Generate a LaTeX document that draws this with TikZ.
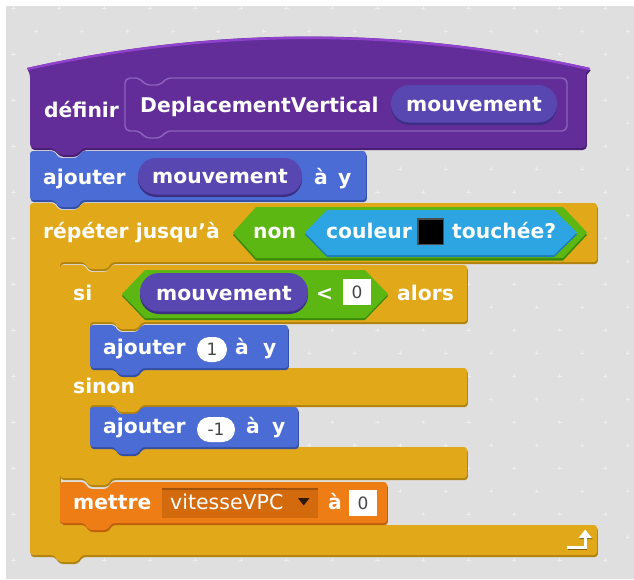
\documentclass[tikz,border=0pt]{standalone}
\usepackage{fontspec}
\setmainfont{DejaVu Sans}
\definecolor{bgc}{RGB}{222,223,222}
\definecolor{gridc}{RGB}{236,237,236}
\definecolor{ctrl}{RGB}{225,169,26}
\definecolor{ctrlD}{RGB}{178,130,14}
\definecolor{motion}{RGB}{74,108,212}
\definecolor{motionD}{RGB}{50,78,165}
\definecolor{more}{RGB}{99,45,153}
\definecolor{moreL}{RGB}{145,66,204}
\definecolor{moreD}{RGB}{72,30,115}
\definecolor{outl}{RGB}{140,98,188}
\definecolor{param}{RGB}{89,71,177}
\definecolor{paramD}{RGB}{60,46,132}
\definecolor{oper}{RGB}{92,183,18}
\definecolor{operD}{RGB}{60,138,10}
\definecolor{sens}{RGB}{44,165,226}
\definecolor{sensD}{RGB}{28,122,182}
\definecolor{data}{RGB}{238,125,22}
\definecolor{dataD}{RGB}{190,96,10}
\definecolor{dropc}{RGB}{212,106,14}
\definecolor{numc}{RGB}{70,70,70}

% stack block with top indent and bottom bump: x1, y1, x2, y2, style
\newcommand{\stackblk}[5]{%
  \fill[#5,rounded corners=3] (#1,#2) -- ({#1+24},#2) -- ({#1+29},{#2+7}) -- ({#1+47},{#2+7})
    -- ({#1+52},#2) -- (#3,#2) -- (#3,#4) -- ({#1+52},#4) -- ({#1+47},{#4+7})
    -- ({#1+29},{#4+7}) -- ({#1+24},#4) -- (#1,#4) -- cycle;}
% define hat
\newcommand{\hatshape}[1]{%
  \fill[#1] (27,68) .. controls (215,26) and (402,26) .. (590,68) -- (586,73)
    [rounded corners=4] -- (586,148) -- (82,148) -- (77,155) -- (59,155) -- (54,148)
    -- (30,148) -- (30,73) [sharp corners] -- cycle;}
% repeat until C block
\newcommand{\repeatshape}[1]{%
  \fill[#1,rounded corners=3] (30,203) -- (54,203) -- (59,210) -- (77,210) -- (82,203)
    -- (597,203) -- (597,262) -- (112,262) -- (107,269) -- (89,269) -- (84,262)
    -- (60,262) -- (60,525) -- (597,525) -- (597,555) -- (82,555) -- (77,562)
    -- (59,562) -- (54,555) -- (30,555) -- cycle;}
% if / else C block
\newcommand{\ifelseshape}[1]{%
  \fill[#1,rounded corners=3] (60,265) -- (84,265) -- (89,272) -- (107,272) -- (112,265)
    -- (467,265) -- (467,322) -- (142,322) -- (137,329) -- (119,329) -- (114,322)
    -- (90,322) -- (90,368) -- (467,368) -- (467,405) -- (142,405) -- (137,412)
    -- (119,412) -- (114,405) -- (90,405) -- (90,447) -- (467,447) -- (467,478)
    -- (112,478) -- (107,485) -- (89,485) -- (84,478) -- (60,478) -- cycle;}

\begin{document}
\begin{tikzpicture}[x=1pt,y=-1pt,
  lbl/.style={anchor=base west,inner sep=0pt,text=white,
    font=\fontsize{20.3}{24}\selectfont\bfseries},
  num/.style={inner sep=0pt,text=numc,font=\fontsize{17}{20}\selectfont},
  shade/.style={shift={(0.8,2)}}]
\useasboundingbox (0,0) rectangle (634,579);
\fill[white] (0,0) rectangle (634,579);
\fill[bgc] (6,6) rectangle (634,579);

% script area grid marks
\begin{scope}
\clip (6,6) rectangle (634,579);
\foreach \j in {-14,...,11}{
  \pgfmathsetmacro{\yy}{330+23*\j}
  \pgfmathsetmacro{\off}{22.75*mod(abs(\j),2)}
  \foreach \i in {-8,...,7}{
    \pgfmathsetmacro{\xx}{332+45.5*\i+\off}
    \draw[gridc,line width=0.9] ({\xx-2.2},\yy) -- ({\xx+2.2},\yy) (\xx,{\yy-2.2}) -- (\xx,{\yy+2.2});
  }}
\end{scope}

% ---- définir block
\hatshape{moreD,shade}
\hatshape{more}
\draw[moreL,line width=2.4] (27.5,69) .. controls (215,27.5) and (402,27.5) .. (589.5,69);
\draw[outl,line width=1.4,rounded corners=5] (125,78) -- (140,78) -- (145,85) -- (161,85)
  -- (166,78) -- (567,78) -- (567,131) -- (166,131) -- (161,138) -- (145,138)
  -- (140,131) -- (125,131) -- cycle;
\node[lbl] (tdef) at (44,117) {définir};
\node[lbl] (tname) at (140,112) {DeplacementVertical};
\fill[paramD,rounded corners=18.5] (391,87) rectangle (557,125);
\fill[param,rounded corners=18.5] (391,85) rectangle (557,122.5);
\node[lbl] (tparam) at (406,111) {mouvement};

% ---- ajouter mouvement à y
\stackblk{30}{151}{366}{200}{motionD,shade}
\stackblk{30}{151}{366}{200}{motion}
\node[lbl] (taj0) at (43,184) {ajouter};
\fill[paramD,rounded corners=18] (138,160) rectangle (302,197);
\fill[param,rounded corners=18] (138,158) rectangle (302,194.5);
\node[lbl] (tmv0) at (152,183) {mouvement};
\node[lbl] (ta0) at (314,184) {à};
\node[lbl] (ty0) at (338,184) {y};

% ---- répéter jusqu'à
\repeatshape{ctrlD,shade}
\repeatshape{ctrl}
\node[lbl] (trep) at (43,238) {répéter jusqu’à};
\fill[operD] (233,235) -- (256,209.5) -- (563,209.5) -- (587,235) -- (563,260.5) -- (256,260.5) -- cycle;
\fill[oper] (233,232.5) -- (256,207) -- (563,207) -- (587,232.5) -- (563,258) -- (256,258) -- cycle;
\node[lbl] (tnon) at (253,238) {non};
\fill[sensD] (305,234.5) -- (327,212) -- (554,212) -- (577,234.5) -- (554,257) -- (327,257) -- cycle;
\fill[sens] (305,232.5) -- (327,210) -- (554,210) -- (577,232.5) -- (554,255) -- (327,255) -- cycle;
\node[lbl] (tcoul) at (326,238) {couleur};
\fill[black!70] (417,218) rectangle (444,245);
\fill[black] (418.5,219.5) rectangle (442.5,243.5);
\node[lbl] (ttouch) at (452,238) {touchée?};
% loop arrow
\begin{scope}[shift={(0.8,1.2)},ctrlD!70!black]
\draw[line width=3] (567,547) -- (585,547) -- (585,537);
\fill (578.5,538) -- (592,538) -- (585.2,529.5) -- cycle;
\end{scope}
\draw[white,line width=3] (567,547) -- (585,547) -- (585,537);
\fill[white] (578.5,538) -- (592,538) -- (585.2,529.5) -- cycle;

% ---- si ... alors ... sinon
\ifelseshape{ctrlD,shade}
\ifelseshape{ctrl}
\node[lbl] (tsi) at (73,300) {si};
\fill[operD] (122,296) -- (145,272) -- (365,272) -- (388,296) -- (365,320) -- (145,320) -- cycle;
\fill[oper] (122,294) -- (145,270) -- (365,270) -- (388,294) -- (365,318) -- (145,318) -- cycle;
\fill[paramD,rounded corners=19] (140,275) rectangle (308,314);
\fill[param,rounded corners=19] (140,273) rectangle (308,311.5);
\node[lbl] (tmv1) at (156,300) {mouvement};
\node[lbl] (tlt) at (316,300) {<};
\fill[white] (343,279) rectangle (371,305);
\node[num] (tz1) at (357,292) {0};
\node[lbl] (talors) at (397,300) {alors};
\node[lbl] (tsinon) at (73,393) {sinon};

% ---- ajouter 1 à y
\stackblk{90}{325}{288}{368}{motionD,shade}
\stackblk{90}{325}{288}{368}{motion}
\node[lbl] (taj1) at (103,354) {ajouter};
\fill[white,rounded corners=12.4] (197,337) rectangle (227,362);
\node[num] (tone) at (212,349.5) {1};
\node[lbl] (ta1) at (235,354) {à};
\node[lbl] (ty1) at (263,354) {y};

% ---- ajouter -1 à y
\stackblk{90}{407}{298}{447}{motionD,shade}
\stackblk{90}{407}{298}{447}{motion}
\node[lbl] (taj2) at (103,433) {ajouter};
\fill[white,rounded corners=12.4] (197,417) rectangle (235,442);
\node[num] (tmone) at (216,429.5) {-1};
\node[lbl] (ta2) at (246,433) {à};
\node[lbl] (ty2) at (272,433) {y};

% ---- mettre vitesseVPC à 0
\stackblk{60}{482}{387}{523}{dataD,shade}
\stackblk{60}{482}{387}{523}{data}
\node[lbl] (tmet) at (73,509) {mettre};
\fill[dataD!85!black] (162,488) rectangle (318,518);
\fill[dropc] (162,490) rectangle (318,518);
\node[anchor=base west,inner sep=0pt,text=white,font=\fontsize{20.5}{24}\selectfont] (tvar) at (170,509) {vitesseVPC};
\fill[black!75!dataD] (298,498) -- (309.5,498) -- (303.7,505.5) -- cycle;
\node[lbl] (ta3) at (328,509) {à};
\fill[white] (349,490) rectangle (377,516);
\node[num] (tz2) at (363,503) {0};
\end{tikzpicture}
\end{document}
